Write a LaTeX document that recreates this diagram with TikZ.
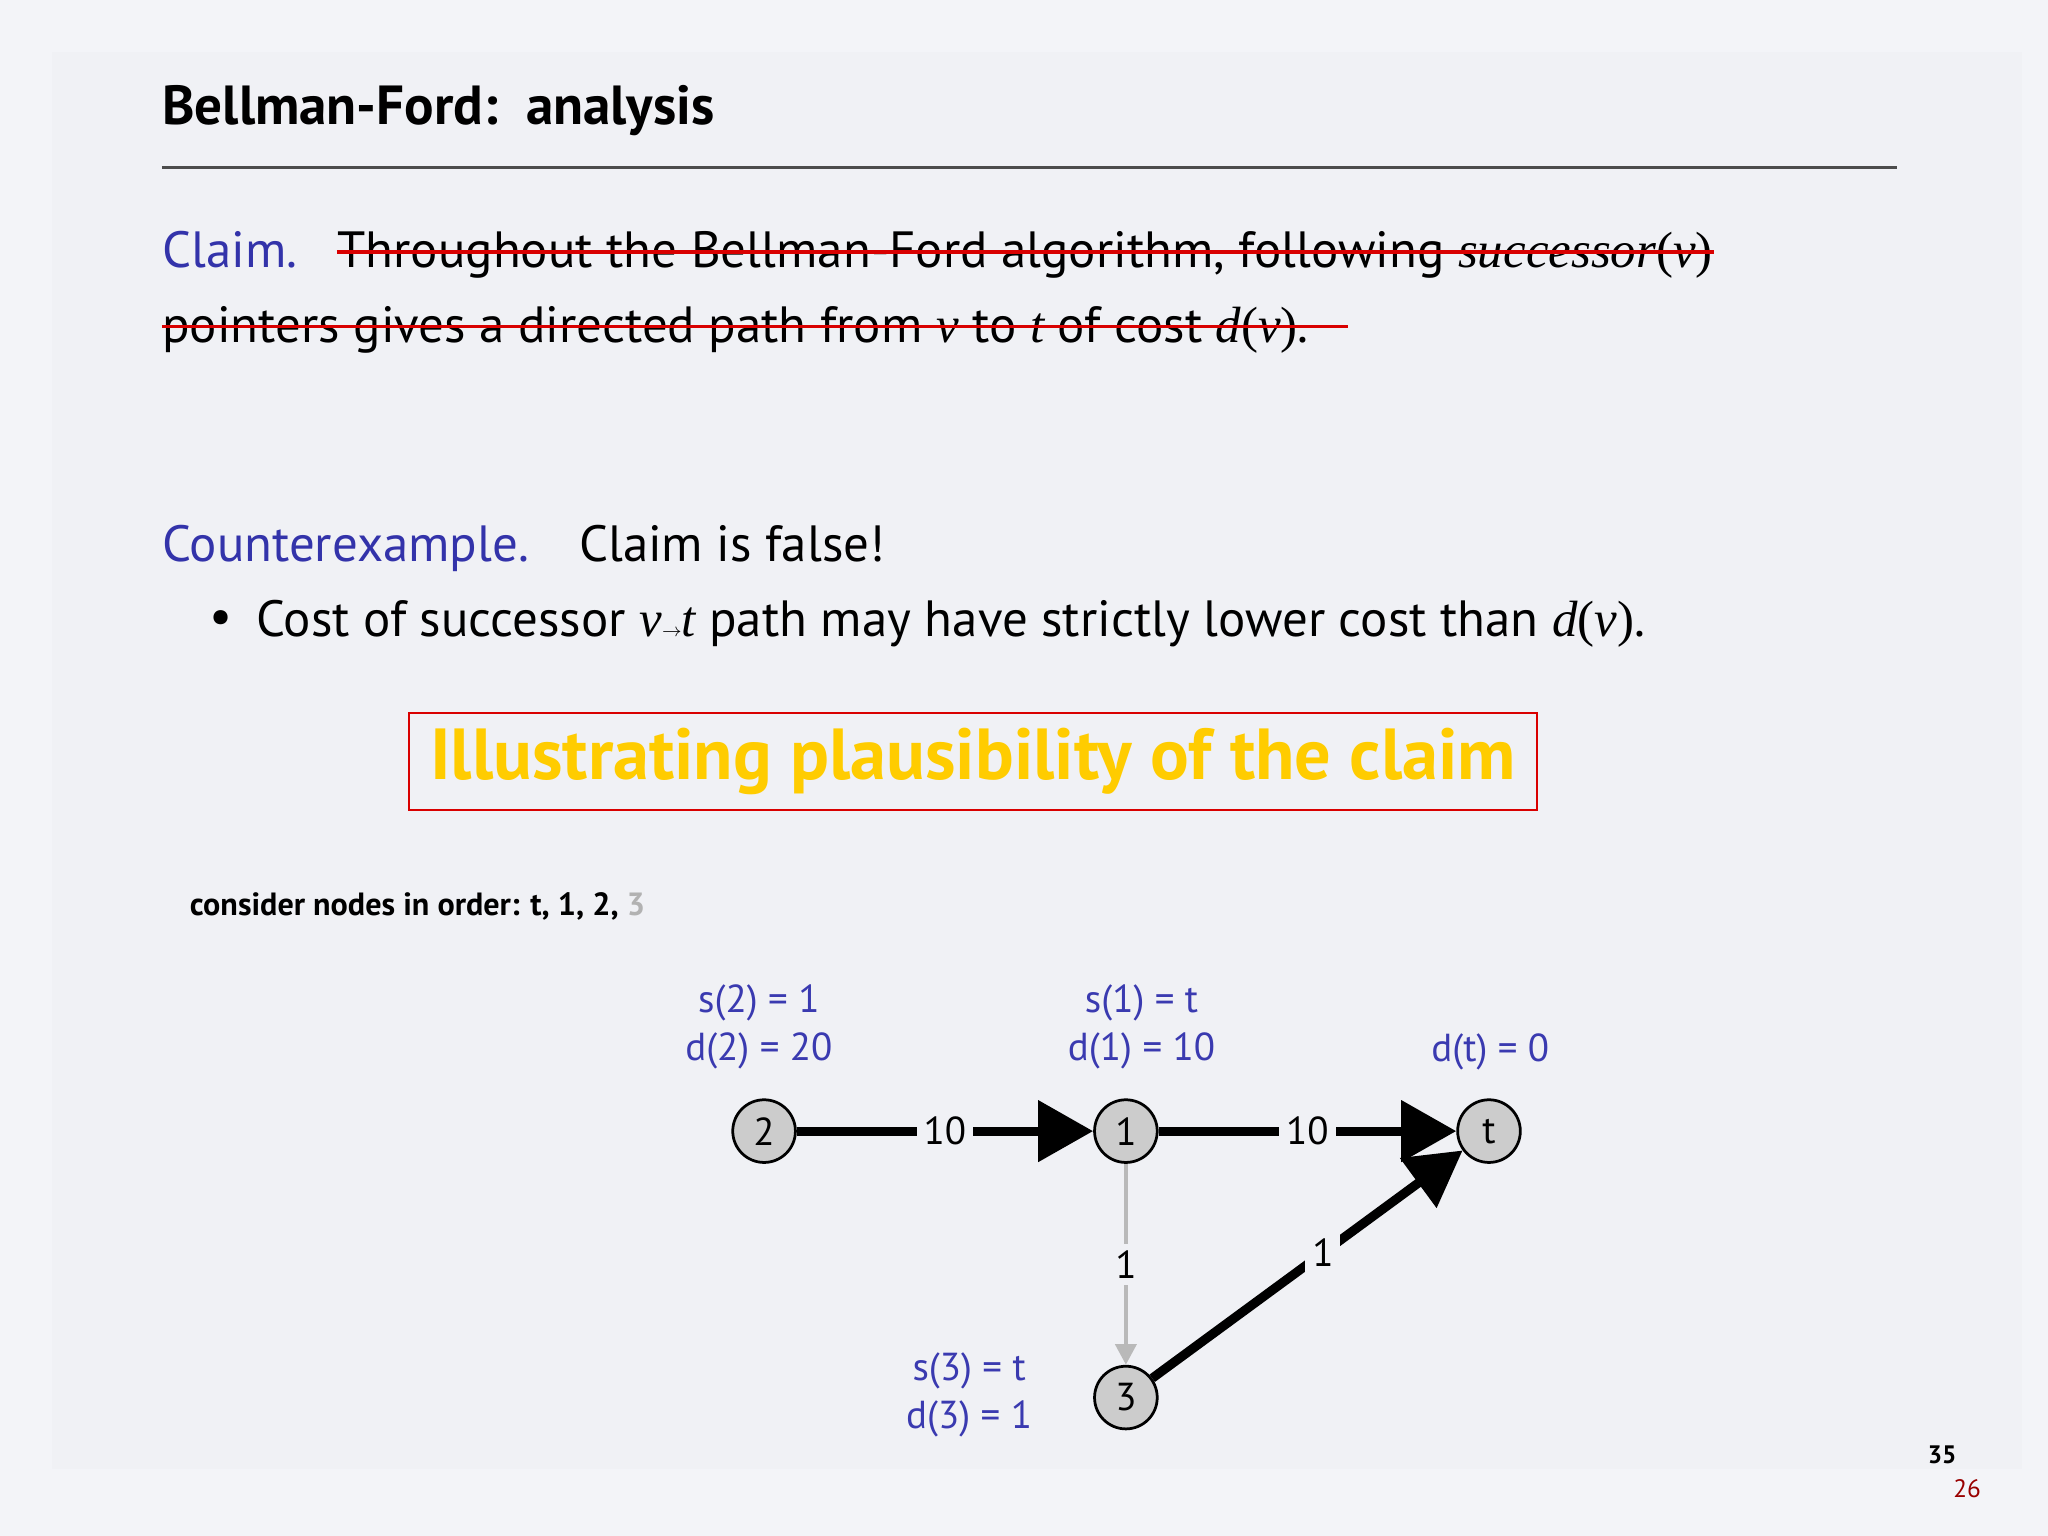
\documentclass[tikz,border=0pt]{standalone}
\usepackage{fontspec}
\setmainfont{PT Sans}
\newfontfamily\ser{Liberation Serif}
\usetikzlibrary{arrows.meta}
\definecolor{bg}{HTML}{F3F4F8}
\definecolor{panel}{HTML}{F0F1F5}
\definecolor{cblue}{HTML}{3333AA}
\definecolor{lblue}{HTML}{3A3AB0}
\definecolor{cyel}{HTML}{FFCC00}
\tikzset{
 vtx/.style={circle,draw=black,fill=gray!40,line width=1.2pt,minimum size=0.96cm,inner sep=0pt,font=\fontsize{17}{20}\selectfont},
 lbl/.style={font=\fontsize{17}{21}\selectfont,text=lblue,align=center},
 wt/.style={fill=panel,font=\fontsize{17}{20}\selectfont,inner sep=3pt},
 body/.style={anchor=base west,inner sep=0pt,font=\fontsize{22.2}{26}\selectfont},
 strike/.style={red!85!black,line width=1.5pt},
 bigarr/.style={line width=4pt,-{Triangle[length=24pt,width=26pt]}}
}
\begin{document}
\begin{tikzpicture}[x=0.02cm,y=-0.02cm]
\fill[bg] (0,0) rectangle (1568,1176);
\fill[panel] (40,40) rectangle (1548,1125);
\useasboundingbox (0,0) rectangle (1568,1176);
\node[body,font=\fontsize{24}{28}\selectfont\bfseries] (title) at (124,95) {Bellman-Ford:\ \ analysis};
\draw[line width=1.3pt,gray!60!black] (124,128) -- (1452,128);
\node[body,text=cblue] (claim) at (124,205) {Claim.};
\node[body] (c1) at (258,205) {Throughout the Bellman-Ford algorithm, following {\ser\itshape successor}{\ser(\itshape v\/\upshape)}};
\node[body] (c2) at (124,262) {pointers gives a directed path from {\ser\itshape v} to {\ser\itshape t} of cost {\ser\itshape d}{\ser(\itshape v\/\upshape)}.};
\draw[strike] (258,193) -- (1312,193);
\draw[strike] (124,250) -- (1032,250);
\node[body,text=cblue] (ce) at (124,430) {Counterexample.};
\node[body] (cf) at (443,430) {Claim is false!};
\node[body] (bul) at (160,485) {\textbullet};
\node[body] (cs) at (196,487) {Cost of successor {\ser\itshape v}{\footnotesize$\to$}{\ser\itshape t} path may have strictly lower cost than {\ser\itshape d}{\ser(\itshape v\/\upshape)}.};
\node[draw=red!85!black,line width=1pt,minimum width=864*0.02cm,minimum height=74*0.02cm,text=cyel,font=\fontsize{31.5}{34}\selectfont\bfseries] (ill) at (745,583) {Illustrating plausibility of the claim};
\node[body,font=\fontsize{14}{16}\selectfont\bfseries] (cons) at (145,701) {consider nodes in order: t, 1, 2, \textcolor{gray!60}{3}};
\node[vtx] (n2) at (585,866) {2};
\node[vtx] (n1) at (862,866) {1};
\node[vtx] (nt) at (1140,866) {t};
\node[vtx] (n3) at (862,1070) {3};
\draw[bigarr] (n2) -- node[wt]{10} (n1);
\draw[bigarr] (n1) -- node[wt]{10} (nt);
\draw[bigarr] (n3) -- node[wt,pos=0.55]{1} (nt);
\draw[line width=2pt,gray!55,-{Triangle[length=9pt,width=9pt]}] (n1) -- node[wt,text=black]{1} (n3);
\node[lbl] (l2) at (581,786) {s(2) = 1\\d(2) = 20};
\node[lbl] (l1) at (874,786) {s(1) = t\\d(1) = 10};
\node[lbl] (lt) at (1141,805) {d(t) = 0};
\node[lbl] (l3) at (742,1068) {s(3) = t\\d(3) = 1};
\node[font=\fontsize{11}{13}\selectfont\bfseries] (p35) at (1487,1114) {35};
\node[font=\fontsize{11}{13}\selectfont,text=red!60!black] (p26) at (1506,1140) {26};
\end{tikzpicture}
\end{document}
